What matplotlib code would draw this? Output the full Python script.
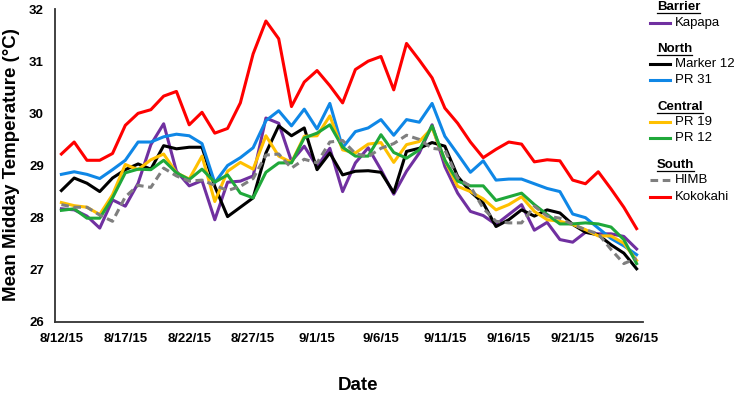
import numpy as np
import pandas as pd
import matplotlib
matplotlib.use("Agg")
import matplotlib.pyplot as plt
from matplotlib.lines import Line2D

plt.rcParams['font.family'] = ['Liberation Sans', 'DejaVu Sans']

# daily dates 8/12/15 .. 9/26/15
dates = pd.date_range("2015-08-12", "2015-09-26", freq="D")
date_labels = [f"{d.month}/{d.day}/{d.strftime('%y')}" for d in dates]

kapapa = [28.17, 28.15, 28.03, 27.80, 28.34, 28.22, 28.66, 29.40, 29.80, 28.89,
          28.61, 28.71, 27.96, 28.68, 28.70, 28.80, 29.91, 29.81, 29.08, 29.37,
          28.98, 29.33, 28.50, 29.05, 29.34, 28.92, 28.45, 28.89, 29.24, 29.78,
          28.98, 28.47, 28.12, 28.04, 27.87, 28.06, 28.25, 27.76, 27.91, 27.58,
          27.53, 27.72, 27.69, 27.69, 27.64, 27.40]
marker12 = [28.52, 28.76, 28.66, 28.50, 28.76, 28.92, 29.03, 28.93, 29.38, 29.32,
            29.35, 29.35, 28.60, 28.02, 28.20, 28.38, 29.24, 29.76, 29.57, 29.72,
            28.92, 29.24, 28.82, 28.89, 28.90, 28.87, 28.48, 29.27, 29.33, 29.44,
            29.37, 28.79, 28.50, 28.28, 27.83, 27.96, 28.15, 28.03, 28.15, 28.09,
            27.87, 27.72, 27.67, 27.48, 27.32, 27.02]
pr31 = [28.83, 28.88, 28.83, 28.75, 28.92, 29.10, 29.45, 29.45, 29.55, 29.60,
        29.57, 29.42, 28.67, 29.00, 29.15, 29.34, 29.86, 30.05, 29.76, 30.08,
        29.70, 30.19, 29.34, 29.65, 29.72, 29.88, 29.58, 29.88, 29.83, 30.19,
        29.56, 29.22, 28.87, 29.09, 28.72, 28.74, 28.74, 28.65, 28.56, 28.50,
        28.07, 28.00, 27.80, 27.60, 27.46, 27.29]
pr19 = [28.29, 28.23, 28.20, 28.06, 28.44, 29.02, 28.92, 29.11, 29.22, 28.86,
        28.74, 29.18, 28.31, 28.89, 29.06, 28.93, 29.57, 29.18, 29.06, 29.56,
        29.57, 29.95, 29.30, 29.24, 29.41, 29.44, 29.06, 29.40, 29.46, 29.72,
        29.10, 28.60, 28.50, 28.36, 28.15, 28.25, 28.40, 28.12, 27.96, 27.93,
        27.87, 27.77, 27.65, 27.65, 27.51, 27.18]
pr12 = [28.14, 28.17, 27.99, 27.99, 28.38, 28.86, 28.93, 28.92, 29.10, 28.86,
        28.73, 28.93, 28.68, 28.82, 28.47, 28.38, 28.87, 29.05, 29.05, 29.53,
        29.62, 29.78, 29.35, 29.18, 29.18, 29.59, 29.25, 29.14, 29.30, 29.76,
        29.10, 28.70, 28.61, 28.61, 28.33, 28.40, 28.47, 28.25, 28.06, 27.88,
        27.88, 27.90, 27.88, 27.82, 27.58, 27.12]
himb = [28.25, 28.20, 28.20, 28.05, 27.93, 28.40, 28.62, 28.58, 28.95, 28.80,
        28.70, 28.72, 28.62, 28.52, 28.60, 28.75, 29.20, 29.22, 28.95, 29.12,
        29.05, 29.45, 29.48, 29.23, 29.17, 29.33, 29.42, 29.58, 29.50, 29.33,
        29.30, 28.76, 28.60, 28.18, 27.93, 27.90, 27.90, 28.22, 28.03, 27.99,
        27.87, 27.77, 27.69, 27.39, 27.12, 27.22]
kokokahi = [29.22, 29.45, 29.10, 29.10, 29.23, 29.77, 30.00, 30.07, 30.33, 30.42,
            29.78, 30.02, 29.62, 29.71, 30.20, 31.14, 31.77, 31.43, 30.13, 30.60,
            30.82, 30.53, 30.20, 30.84, 31.00, 31.09, 30.45, 31.34, 31.02, 30.68,
            30.10, 29.81, 29.45, 29.15, 29.31, 29.45, 29.41, 29.07, 29.11, 29.09,
            28.72, 28.65, 28.88, 28.55, 28.20, 27.79]

# (group, name, values, color, linestyle)
series = [
    ("Barrier", "Kapapa", kapapa, "#7030A0", "-"),
    ("North", "Marker 12", marker12, "#000000", "-"),
    ("North", "PR 31", pr31, "#0F87E6", "-"),
    ("Central", "PR 19", pr19, "#FFC000", "-"),
    ("Central", "PR 12", pr12, "#1FA83A", "-"),
    ("South", "HIMB", himb, "#7F7F7F", "--"),
    ("South", "Kokokahi", kokokahi, "#FF0000", "-"),
]

W, H = 737, 394
fig = plt.figure(figsize=(W / 100, H / 100), dpi=100)
ax = fig.add_axes([55 / W, 1 - 322 / H, (643 - 55) / W, (322 - 9) / H])

x = np.arange(len(dates))
for grp, name, vals, col, ls in series:
    if ls == "--":
        ax.plot(x, vals, color=col, lw=2.2, linestyle=(0, (2.5, 1.5)))
    else:
        ax.plot(x, vals, color=col, lw=2.2)

ax.set_xlim(-0.5, len(dates) - 0.5)
ax.set_ylim(26, 32)
ax.set_xticks(x[::5])
ax.set_xticklabels(date_labels[::5])
ax.set_yticks(range(26, 33))
ax.tick_params(length=0, pad=8, labelsize=9.5)
for lab in ax.get_xticklabels() + ax.get_yticklabels():
    lab.set_fontweight("bold")
for s in ["top", "right"]:
    ax.spines[s].set_visible(False)
for s in ["left", "bottom"]:
    ax.spines[s].set_color("#333333")
    ax.spines[s].set_linewidth(1.3)

fig.text(12 / W, 1 - 165 / H, "Mean Midday Temperature (°C)", rotation=90,
         ha="center", va="center", fontsize=13.5, fontweight="bold")
fig.text(358 / W, 1 - 385 / H, "Date", ha="center", va="center",
         fontsize=13.5, fontweight="bold")

# legend, drawn by hand with group headings
heads = {"Barrier": 7, "North": 49, "Central": 107, "South": 165}
entry_y = {"Kapapa": 23, "Marker 12": 64, "PR 31": 80, "PR 19": 122,
           "PR 12": 138, "HIMB": 180, "Kokokahi": 197}
head_txt = []
for g, yy in heads.items():
    t = fig.text(657 / W, 1 - yy / H, g, ha="left", va="center",
                 fontsize=9.5, fontweight="bold")
    head_txt.append(t)
for grp, name, vals, col, ls in series:
    yy = 1 - entry_y[name] / H
    fig.add_artist(Line2D([650 / W, 670 / W], [yy, yy], color=col, lw=2.2,
                          linestyle=(0, (2.5, 1.5)) if ls == "--" else "-",
                          transform=fig.transFigure))
    fig.text(675 / W, yy, name, ha="left", va="center", fontsize=9.5)

fig.canvas.draw()
for t in head_txt:
    bb = t.get_window_extent()
    uy = (bb.y0 + 0.5) / H
    fig.add_artist(Line2D([bb.x0 / W, bb.x1 / W], [uy, uy], color="black",
                          lw=0.9, transform=fig.transFigure))

fig.savefig("out.png", dpi=100)
